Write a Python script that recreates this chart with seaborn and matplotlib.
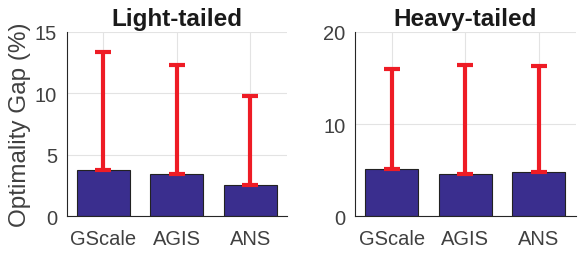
import numpy as np
import pandas as pd
import matplotlib
matplotlib.use('Agg')
import matplotlib.pyplot as plt
import seaborn as sns

# values
methods = ['GScale', 'AGIS', 'ANS']
light_mean = [3.75, 3.40, 2.55]
light_upper = [13.35, 12.35, 9.75]
heavy_mean = [5.10, 4.55, 4.80]
heavy_upper = [15.95, 16.40, 16.25]

sns.set_theme(style='white')
plt.rcParams['font.family'] = ['Liberation Sans', 'DejaVu Sans']

bar_color = '#3a2e8e'
err_color = '#ee1c25'
txt_color = '#404040'

fig = plt.figure(figsize=(5.81, 2.55), dpi=100)
ax1 = fig.add_axes([0.1148, 0.149, 0.379, 0.7216])
ax2 = fig.add_axes([0.611, 0.149, 0.380, 0.7216])

panels = [
    (ax1, 'Light-tailed', light_mean, light_upper, 15, [0, 5, 10, 15]),
    (ax2, 'Heavy-tailed', heavy_mean, heavy_upper, 20, [0, 10, 20]),
]

for ax, title, mean, upper, ymax, ticks in panels:
    df = pd.DataFrame({'method': methods, 'gap': mean})
    ax.set_axisbelow(True)
    sns.barplot(data=df, x='method', y='gap', color=bar_color, width=0.72,
                saturation=1, edgecolor='#222222', linewidth=0.8, ax=ax)
    mean = np.array(mean)
    upper = np.array(upper)
    ax.errorbar(np.arange(len(methods)), mean,
                yerr=[np.zeros_like(mean), upper - mean],
                fmt='none', ecolor=err_color, elinewidth=3, capsize=6, capthick=3,
                zorder=5)
    ax.set_xlim(-0.5, 2.5)
    ax.set_ylim(0, ymax)
    ax.set_yticks(ticks)
    ax.grid(True, color='#e3e3e3', linewidth=0.8)
    ax.set_title(title, fontsize=17.5, fontweight='bold', color='#1a1a1a', pad=5)
    ax.set_xlabel('')
    ax.set_ylabel('')
    for s in ['top', 'right']:
        ax.spines[s].set_visible(False)
    for s in ['left', 'bottom']:
        ax.spines[s].set_color('#262626')
        ax.spines[s].set_linewidth(0.8)
    ax.tick_params(axis='both', labelsize=14.5, colors=txt_color, length=0)
    ax.tick_params(axis='x', pad=9)
    ax.tick_params(axis='y', pad=7)

ax1.set_ylabel('Optimality Gap (%)', fontsize=17.5, color=txt_color, labelpad=3)

fig.savefig('out.png', dpi=100)
